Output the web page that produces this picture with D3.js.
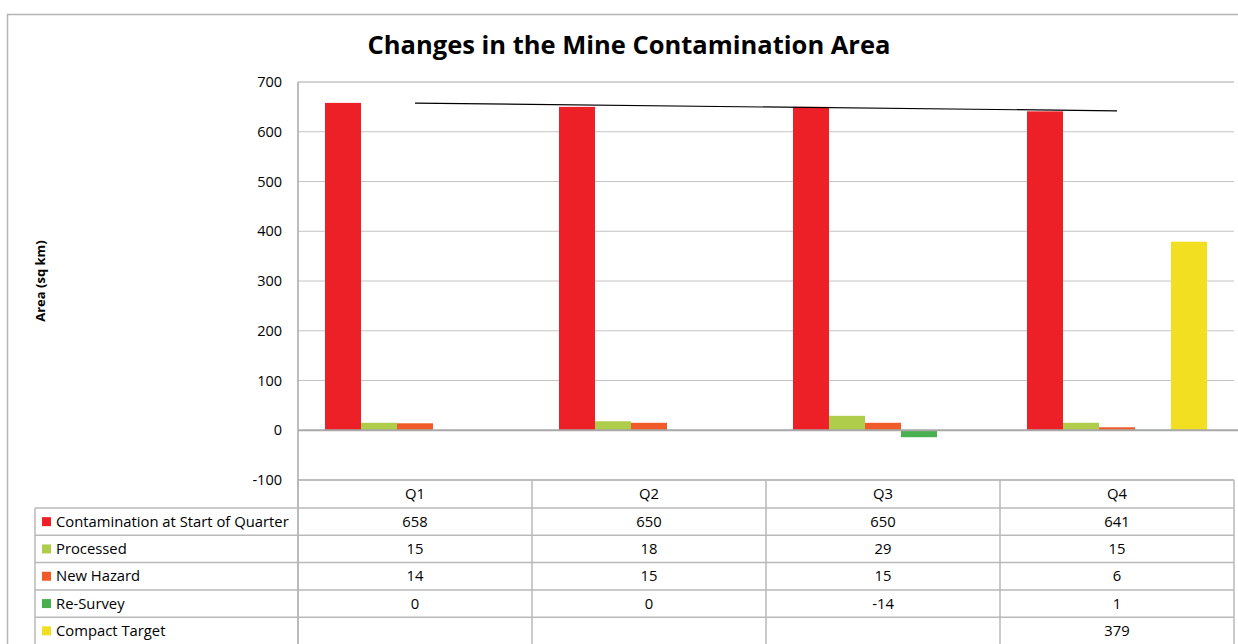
<!DOCTYPE html>
<html>
<head>
<meta charset="utf-8">
<script src="https://cdn.jsdelivr.net/npm/d3@7"></script>
<style>
  body { margin: 0; background: #fff; }
  text { font-family: "Open Sans", "Noto Sans", sans-serif; fill: #000; }
</style>
</head>
<body>
<script>
// data
var quarters = ["Q1", "Q2", "Q3", "Q4"];
var seriesNames = ["Contamination at Start of Quarter", "Processed", "New Hazard", "Re-Survey", "Compact Target"];
var contamination = [658, 650, 650, 641];
var processed = [15, 18, 29, 15];
var newHazard = [14, 15, 15, 6];
var reSurvey = [0, 0, -14, 1];
var compactTarget = [null, null, null, 379];
var yTicks = [-100, 0, 100, 200, 300, 400, 500, 600, 700];
var colors = ["#ed2027", "#afcd4a", "#f15a29", "#4ab04f", "#f2df21"];

var seriesValues = [contamination, processed, newHazard, reSurvey, compactTarget];

var svgWidth = 1238;
var svgHeight = 644;

var margin = { top: 82, right: 4, bottom: 164, left: 298 };
var width = svgWidth - margin.left - margin.right;
var height = svgHeight - margin.top - margin.bottom;

var svg = d3.select("body")
  .append("svg")
  .attr("width", svgWidth)
  .attr("height", svgHeight);

// outer chart border
svg.append("path")
  .attr("d", "M7.5,644 L7.5,14.5 L1238,14.5")
  .attr("fill", "none")
  .attr("stroke", "#b5b5b5")
  .attr("stroke-width", 1.5);

// title
svg.append("text")
  .attr("x", 629)
  .attr("y", 54)
  .attr("text-anchor", "middle")
  .style("font-size", "25.5px")
  .style("font-weight", "bold")
  .text("Changes in the Mine Contamination Area");

// y axis label
svg.append("text")
  .attr("transform", "translate(45, 281) rotate(-90)")
  .attr("text-anchor", "middle")
  .style("font-size", "13px")
  .style("font-weight", "bold")
  .text("Area (sq km)");

var chartGroup = svg.append("g")
  .attr("transform", `translate(${margin.left}, ${margin.top})`);

// scales
var x0 = d3.scaleBand()
  .domain(quarters)
  .range([0, width])
  .padding(0);

var x1 = d3.scaleBand()
  .domain(d3.range(seriesNames.length))
  .range([0, x0.bandwidth()])
  .paddingInner(0)
  .paddingOuter(0.75);

var yLinearScale = d3.scaleLinear()
  .domain([-100, 700])
  .range([height, 0]);

// gridlines
chartGroup.selectAll(".grid")
  .data(yTicks.filter(d => d !== 0 && d !== -100))
  .enter()
  .append("line")
  .attr("x1", 0)
  .attr("x2", width)
  .attr("y1", d => yLinearScale(d))
  .attr("y2", d => yLinearScale(d))
  .attr("stroke", "#c4c4c4")
  .attr("stroke-width", 1);

// y axis
var leftAxis = d3.axisLeft(yLinearScale)
  .tickValues(yTicks)
  .tickFormat(d => String(d))
  .tickSize(0)
  .tickPadding(16);

var yAxisG = chartGroup.append("g").call(leftAxis);
yAxisG.select(".domain").remove();
yAxisG.selectAll("text")
  .style("font-family", "'Open Sans', 'Noto Sans', sans-serif")
  .style("font-size", "14.5px")
  .attr("fill", "#000");

// bars
seriesValues.forEach(function(vals, si) {
  chartGroup.selectAll(".bar" + si)
    .data(vals.map((v, i) => ({ q: quarters[i], v: v })).filter(d => d.v !== null))
    .enter()
    .append("rect")
    .attr("x", d => x0(d.q) + x1(si))
    .attr("width", x1.bandwidth())
    .attr("y", d => yLinearScale(Math.max(0, d.v)))
    .attr("height", d => Math.abs(yLinearScale(d.v) - yLinearScale(0)))
    .attr("fill", colors[si]);
});

// plot frame lines: left axis, bottom (-100) and zero line
chartGroup.append("line")
  .attr("x1", 0).attr("x2", 0)
  .attr("y1", 0).attr("y2", svgHeight)
  .attr("stroke", "#a8a8a8").attr("stroke-width", 1.5);

chartGroup.append("line")
  .attr("x1", 0).attr("x2", width)
  .attr("y1", 0).attr("y2", 0)
  .attr("stroke", "#c4c4c4").attr("stroke-width", 1);

chartGroup.append("line")
  .attr("x1", 0).attr("x2", width + 4)
  .attr("y1", yLinearScale(0)).attr("y2", yLinearScale(0))
  .attr("stroke", "#a8a8a8").attr("stroke-width", 2);

chartGroup.append("line")
  .attr("x1", 0).attr("x2", width)
  .attr("y1", yLinearScale(-100)).attr("y2", yLinearScale(-100))
  .attr("stroke", "#a8a8a8").attr("stroke-width", 1.5);

// linear trendline on contamination
var xs = d3.range(1, contamination.length + 1);
var xMean = d3.mean(xs);
var yMean = d3.mean(contamination);
var slope = d3.sum(xs, (xv, i) => (xv - xMean) * (contamination[i] - yMean)) /
  d3.sum(xs, xv => (xv - xMean) * (xv - xMean));
var intercept = yMean - slope * xMean;

var trendLine = d3.line()
  .x(d => x0(quarters[d - 1]) + x0.bandwidth() / 2)
  .y(d => yLinearScale(intercept + slope * d));

chartGroup.append("path")
  .datum([1, contamination.length])
  .attr("d", trendLine)
  .attr("fill", "none")
  .attr("stroke", "#000")
  .attr("stroke-width", 1.2);

// data table
var tableTop = margin.top + height;
var headerH = 28;
var rowH = 27.3;
var tableLeft = 35;
var gridColor = "#b9b9b9";
var cellFont = "14.8px";

var table = svg.append("g");

// header cells
quarters.forEach(function(q) {
  var cx = margin.left + x0(q);
  table.append("text")
    .attr("x", cx + x0.bandwidth() / 2)
    .attr("y", tableTop + headerH / 2 + 5)
    .attr("text-anchor", "middle")
    .style("font-size", cellFont)
    .text(q);
});

// vertical lines for columns
quarters.concat(["end"]).forEach(function(q, i) {
  var xv = margin.left + (i < quarters.length ? x0(q) : width);
  table.append("line")
    .attr("x1", xv).attr("x2", xv)
    .attr("y1", tableTop).attr("y2", svgHeight)
    .attr("stroke", gridColor).attr("stroke-width", 1.5);
});

table.append("line")
  .attr("x1", tableLeft).attr("x2", tableLeft)
  .attr("y1", tableTop + headerH).attr("y2", svgHeight)
  .attr("stroke", gridColor).attr("stroke-width", 1.5);

seriesNames.forEach(function(name, si) {
  var top = tableTop + headerH + si * rowH;
  table.append("line")
    .attr("x1", tableLeft).attr("x2", margin.left + width)
    .attr("y1", top).attr("y2", top)
    .attr("stroke", gridColor).attr("stroke-width", 1.5);

  table.append("rect")
    .attr("x", 42)
    .attr("y", top + rowH / 2 - 4.5)
    .attr("width", 9)
    .attr("height", 9)
    .attr("fill", colors[si]);

  table.append("text")
    .attr("x", 56)
    .attr("y", top + rowH / 2 + 5)
    .style("font-size", cellFont)
    .text(name);

  seriesValues[si].forEach(function(v, i) {
    if (v === null) return;
    table.append("text")
      .attr("x", margin.left + x0(quarters[i]) + x0.bandwidth() / 2)
      .attr("y", top + rowH / 2 + 5)
      .attr("text-anchor", "middle")
      .style("font-size", cellFont)
      .text(v);
  });
});
</script>
</body>
</html>
